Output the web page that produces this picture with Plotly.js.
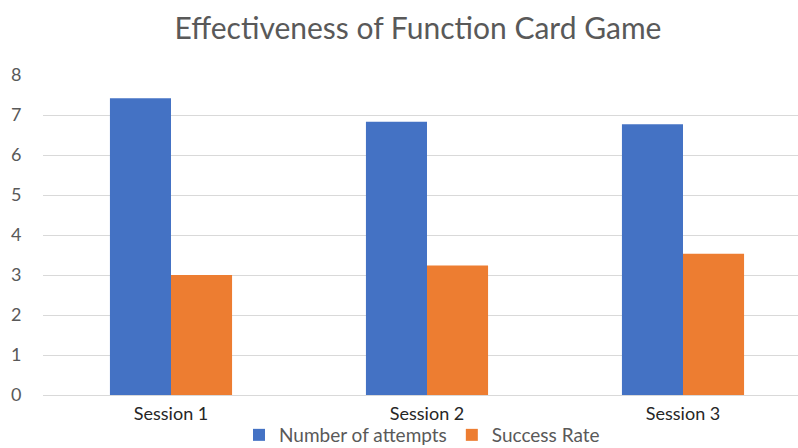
<!DOCTYPE html>
<html>
<head>
<meta charset="utf-8">
<script src="https://cdn.plot.ly/plotly-3.0.1.min.js"></script>
<style>html,body{margin:0;padding:0;background:#fff;}#chart{width:798px;height:448px;}</style>
</head>
<body>
<div id="chart"></div>
<script>
const categories = ["Session 1", "Session 2", "Session 3"];
const attempts = [7.42, 6.83, 6.77];
const successRate = [3.0, 3.24, 3.53];
const yTicks = [0, 1, 2, 3, 4, 5, 6, 7, 8];

const font = "Lato, 'Open Sans', sans-serif";
const data = [
  {type: "bar", name: "Number of attempts", x: categories, y: attempts, marker: {color: "#4472C4"}, hoverinfo: "y"},
  {type: "bar", name: "Success Rate", x: categories, y: successRate, marker: {color: "#ED7D31"}, hoverinfo: "y"}
];
const layout = {
  width: 798, height: 448,
  margin: {l: 43, r: 0, t: 75, b: 53, pad: 0, autoexpand: false},
  paper_bgcolor: "#fff", plot_bgcolor: "#fff",
  barmode: "group", bargap: 0.523, bargroupgap: 0,
  title: {text: "Effectiveness of Function Card Game", x: 418/798, xanchor: "center", y: 1 - 28/448, yanchor: "middle", font: {family: font, size: 30, color: "#595959"}},
  xaxis: {type: "category", range: [-0.5, -0.5 + 755/256], showgrid: false, showline: true, linecolor: "#d9d9d9", linewidth: 1, ticks: "outside", ticklen: 2, tickcolor: "rgba(0,0,0,0)", tickfont: {family: font, size: 18, color: "#262626"}, fixedrange: true, automargin: false},
  yaxis: {range: [0, 8], tickvals: yTicks, showgrid: true, gridcolor: "#d9d9d9", gridwidth: 1, zeroline: true, zerolinecolor: "#d9d9d9", zerolinewidth: 1, ticks: "outside", ticklen: 17, tickcolor: "rgba(0,0,0,0)", tickfont: {family: font, size: 18, color: "#595959"}, fixedrange: true, automargin: false},
  showlegend: true,
  legend: {orientation: "h", x: (422-43)/755, xanchor: "center", y: (395-435)/320, yanchor: "middle", bgcolor: "rgba(0,0,0,0)", font: {family: font, size: 19, color: "#595959"}, itemwidth: 30, tracegroupgap: 0},
};
Plotly.newPlot("chart", data, layout, {displayModeBar: false, staticPlot: true});
</script>
</body>
</html>
